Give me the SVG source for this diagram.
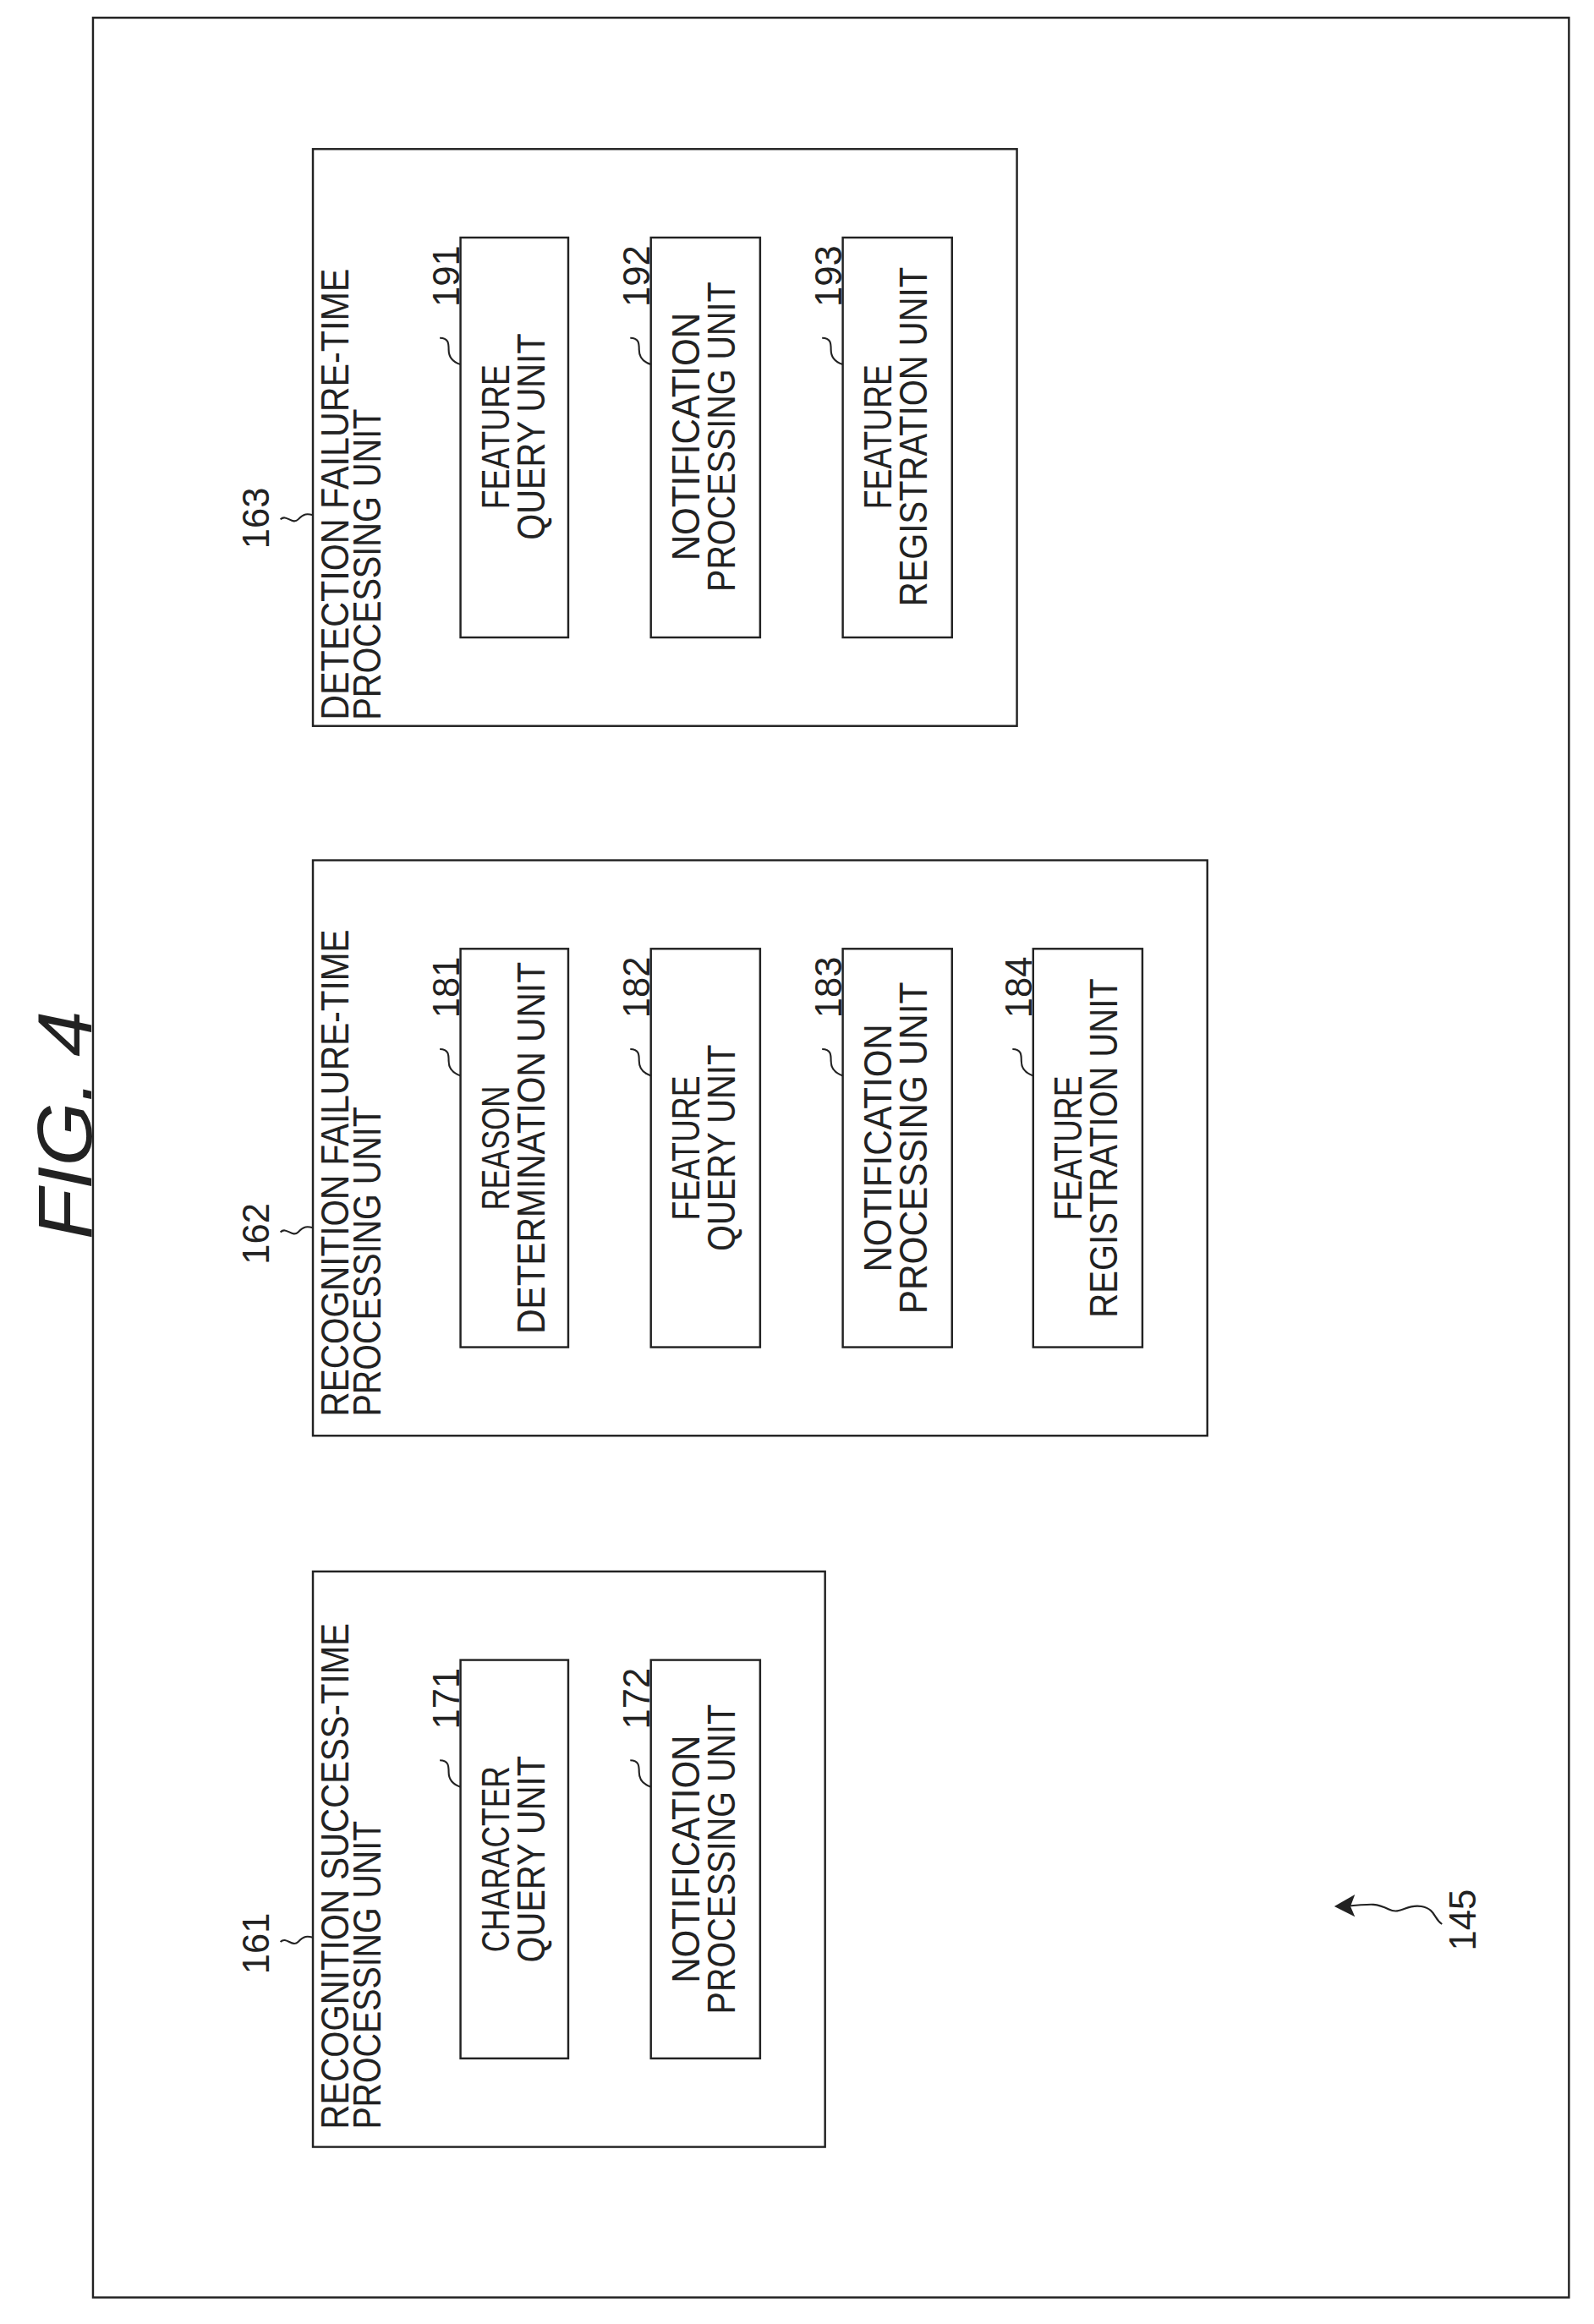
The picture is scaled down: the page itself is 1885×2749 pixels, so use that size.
<svg xmlns="http://www.w3.org/2000/svg" width="1885" height="2749" viewBox="0 0 1885 2749">
<style>
.b{fill:none;stroke:#222;stroke-width:1.4}
.l{fill:none;stroke:#222;stroke-width:1.2}
text{font-family:"Liberation Sans",Arial,sans-serif;fill:#222}
.t{font-size:26px}
.i{font-size:27px;text-anchor:middle}
.n{font-size:25px}
</style>
<rect width="1885" height="2749" fill="#fff"/>
<g transform="scale(1.7454)">
<rect class="b" x="63" y="12" width="1000" height="1545"/>
<text transform="translate(62,840) rotate(-90)" font-size="52" font-style="italic" textLength="155" lengthAdjust="spacingAndGlyphs">FIG. 4</text>

<g id="n163">
<rect class="b" x="212" y="101" width="477" height="391"/>
<text class="t" transform="translate(236,488) rotate(-90)" textLength="306" lengthAdjust="spacingAndGlyphs">DETECTION FAILURE-TIME</text>
<text class="t" transform="translate(258,488) rotate(-90)" textLength="211" lengthAdjust="spacingAndGlyphs">PROCESSING UNIT</text>
<text class="n" transform="translate(182,372) rotate(-90)">163</text>
</g>
<g id="n191"><rect class="b" x="312" y="161" width="73" height="271"/>
<text class="i" transform="translate(345,296) rotate(-90)" textLength="98" lengthAdjust="spacingAndGlyphs">FEATURE</text>
<text class="i" transform="translate(369,296) rotate(-90)" textLength="140" lengthAdjust="spacingAndGlyphs">QUERY UNIT</text>
<text class="n" transform="translate(311,208) rotate(-90)">191</text></g>
<g id="n192"><rect class="b" x="441" y="161" width="74" height="271"/>
<text class="i" transform="translate(474,296) rotate(-90)" textLength="168" lengthAdjust="spacingAndGlyphs">NOTIFICATION</text>
<text class="i" transform="translate(498,296) rotate(-90)" textLength="210" lengthAdjust="spacingAndGlyphs">PROCESSING UNIT</text>
<text class="n" transform="translate(440,208) rotate(-90)">192</text></g>
<g id="n193"><rect class="b" x="571" y="161" width="74" height="271"/>
<text class="i" transform="translate(604,296) rotate(-90)" textLength="98" lengthAdjust="spacingAndGlyphs">FEATURE</text>
<text class="i" transform="translate(628,296) rotate(-90)" textLength="230" lengthAdjust="spacingAndGlyphs">REGISTRATION UNIT</text>
<text class="n" transform="translate(570,208) rotate(-90)">193</text></g>

<g id="n162">
<rect class="b" x="212" y="583" width="606" height="390"/>
<text class="t" transform="translate(236,960) rotate(-90)" textLength="330" lengthAdjust="spacingAndGlyphs">RECOGNITION FAILURE-TIME</text>
<text class="t" transform="translate(258,960) rotate(-90)" textLength="210" lengthAdjust="spacingAndGlyphs">PROCESSING UNIT</text>
<text class="n" transform="translate(182,857) rotate(-90)">162</text>
</g>
<g id="n181"><rect class="b" x="312" y="643" width="73" height="270"/>
<text class="i" transform="translate(345,778) rotate(-90)" textLength="84" lengthAdjust="spacingAndGlyphs">REASON</text>
<text class="i" transform="translate(369,778) rotate(-90)" textLength="252" lengthAdjust="spacingAndGlyphs">DETERMINATION UNIT</text>
<text class="n" transform="translate(311,690) rotate(-90)">181</text></g>
<g id="n182"><rect class="b" x="441" y="643" width="74" height="270"/>
<text class="i" transform="translate(474,778) rotate(-90)" textLength="98" lengthAdjust="spacingAndGlyphs">FEATURE</text>
<text class="i" transform="translate(498,778) rotate(-90)" textLength="140" lengthAdjust="spacingAndGlyphs">QUERY UNIT</text>
<text class="n" transform="translate(440,690) rotate(-90)">182</text></g>
<g id="n183"><rect class="b" x="571" y="643" width="74" height="270"/>
<text class="i" transform="translate(604,778) rotate(-90)" textLength="168" lengthAdjust="spacingAndGlyphs">NOTIFICATION</text>
<text class="i" transform="translate(628,778) rotate(-90)" textLength="225" lengthAdjust="spacingAndGlyphs">PROCESSING UNIT</text>
<text class="n" transform="translate(570,690) rotate(-90)">183</text></g>
<g id="n184"><rect class="b" x="700" y="643" width="74" height="270"/>
<text class="i" transform="translate(733,778) rotate(-90)" textLength="98" lengthAdjust="spacingAndGlyphs">FEATURE</text>
<text class="i" transform="translate(757,778) rotate(-90)" textLength="230" lengthAdjust="spacingAndGlyphs">REGISTRATION UNIT</text>
<text class="n" transform="translate(699,690) rotate(-90)">184</text></g>

<g id="n161">
<rect class="b" x="212" y="1065" width="347" height="390"/>
<text class="t" transform="translate(236,1443) rotate(-90)" textLength="343" lengthAdjust="spacingAndGlyphs">RECOGNITION SUCCESS-TIME</text>
<text class="t" transform="translate(258,1443) rotate(-90)" textLength="209" lengthAdjust="spacingAndGlyphs">PROCESSING UNIT</text>
<text class="n" transform="translate(182,1338) rotate(-90)">161</text>
</g>
<g id="n171"><rect class="b" x="312" y="1125" width="73" height="270"/>
<text class="i" transform="translate(345,1260) rotate(-90)" textLength="126" lengthAdjust="spacingAndGlyphs">CHARACTER</text>
<text class="i" transform="translate(369,1260) rotate(-90)" textLength="140" lengthAdjust="spacingAndGlyphs">QUERY UNIT</text>
<text class="n" transform="translate(311,1172) rotate(-90)">171</text></g>
<g id="n172"><rect class="b" x="441" y="1125" width="74" height="270"/>
<text class="i" transform="translate(474,1260) rotate(-90)" textLength="168" lengthAdjust="spacingAndGlyphs">NOTIFICATION</text>
<text class="i" transform="translate(498,1260) rotate(-90)" textLength="210" lengthAdjust="spacingAndGlyphs">PROCESSING UNIT</text>
<text class="n" transform="translate(440,1172) rotate(-90)">172</text></g>

<text class="n" transform="translate(1000,1322) rotate(-90)">145</text>

<g id="connectors">
<path class="l" d="M190,352 c4,-4 8,4 12,0 s6,-4 10,-3"/>
<path class="l" d="M190,835 c4,-4 8,4 12,0 s6,-4 10,-3"/>
<path class="l" d="M190,1316 c4,-4 8,4 12,0 s6,-4 10,-3"/>
<path class="l" d="M298,229 c6,0 6,4 6,8 s2,8 8,10"/>
<path class="l" d="M427,229 c6,0 6,4 6,8 s2,8 8,10"/>
<path class="l" d="M557,229 c6,0 6,4 6,8 s2,8 8,10"/>
<path class="l" d="M298,711 c6,0 6,4 6,8 s2,8 8,10"/>
<path class="l" d="M427,711 c6,0 6,4 6,8 s2,8 8,10"/>
<path class="l" d="M557,711 c6,0 6,4 6,8 s2,8 8,10"/>
<path class="l" d="M686,711 c6,0 6,4 6,8 s2,8 8,10"/>
<path class="l" d="M298,1193 c6,0 6,4 6,8 s2,8 8,10"/>
<path class="l" d="M427,1193 c6,0 6,4 6,8 s2,8 8,10"/>
<path class="l" d="M977,1304 c-6,-4 -4,-10 -14,-12 s-14,6 -22,2 s-10,-4 -30,-2"/>
<path d="M904,1292 l14,-8 l-3,8 l3,7 z" fill="#222"/>
</g>
</g>
</svg>
